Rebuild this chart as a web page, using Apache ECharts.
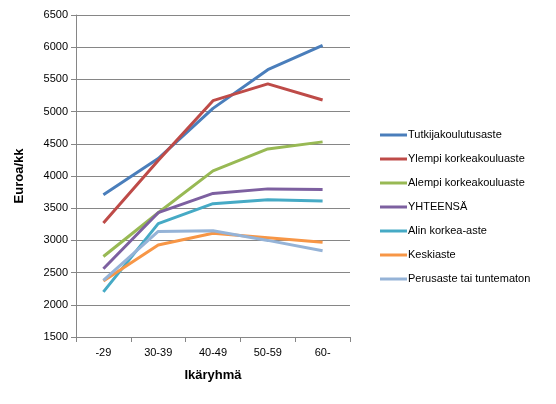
<!DOCTYPE html>
<html>
<head>
<meta charset="utf-8">
<script src="https://cdn.jsdelivr.net/npm/echarts@6/dist/echarts.min.js"></script>
<style>
  html, body { margin: 0; padding: 0; background: #fff; }
  #chart { width: 556px; height: 404px; }
</style>
</head>
<body>
<div id="chart"></div>
<script>
'use strict';
// ikäryhmät
let categories = ['-29', '30-39', '40-49', '50-59', '60-'];
let seriesNames = [
    'Tutkijakoulutusaste',
    'Ylempi korkeakouluaste',
    'Alempi korkeakouluaste',
    'YHTEENSÄ',
    'Alin korkea-aste',
    'Keskiaste',
    'Perusaste tai tuntematon',
];
let tutkija = [3710, 4270, 5050, 5650, 6030];
let ylempi = [3270, 4240, 5170, 5430, 5180];
let alempi = [2750, 3430, 4080, 4420, 4530];
let yhteensa = [2560, 3430, 3730, 3800, 3790];
let alin = [2200, 3260, 3570, 3630, 3610];
let keskiaste = [2370, 2930, 3110, 3040, 2970];
let perusaste = [2380, 3140, 3150, 3000, 2840];
let colors = ['#4a7ebb', '#be4b48', '#98b954', '#7d60a0', '#46aac5', '#f79646', '#95b3d7'];

let seriesData = [tutkija, ylempi, alempi, yhteensa, alin, keskiaste, perusaste];
let font = 'Liberation Sans, Arial, sans-serif';

let myChart = echarts.init(document.getElementById('chart'), null, {renderer: 'canvas'});
let series = [];
for (let i = 0; i < seriesNames.length; i++) {
    series.push({
        name: seriesNames[i],
        type: 'line',
        showSymbol: false,
        symbol: 'none',
        data: seriesData[i],
        lineStyle: {width: 3},
    });
}

let option = {
    animation: false,
    color: colors,
    grid: {left: 76, right: 206, top: 15, bottom: 67},
    legend: {
        orient: 'vertical',
        left: 375,
        top: 123,
        icon: 'rect',
        itemWidth: 27,
        itemHeight: 3,
        itemGap: 10,
        textStyle: {fontFamily: font, fontSize: 11, color: '#000', lineHeight: 14, padding: [0, 0, 0, -4]},
        data: seriesNames,
    },
    xAxis: {
        type: 'category',
        boundaryGap: true,
        data: categories,
        name: 'Ikäryhmä',
        nameLocation: 'middle',
        nameGap: 32,
        nameTextStyle: {fontFamily: font, fontSize: 13, fontWeight: 'bold', color: '#000'},
        axisLine: {lineStyle: {color: '#868686'}},
        axisTick: {show: true, length: 5, lineStyle: {color: '#868686'}},
        axisLabel: {fontFamily: font, fontSize: 11, color: '#000', margin: 10},
    },
    yAxis: {
        type: 'value',
        min: 1500,
        max: 6500,
        interval: 500,
        name: 'Euroa/kk',
        nameLocation: 'middle',
        nameGap: 50,
        nameTextStyle: {fontFamily: font, fontSize: 13, fontWeight: 'bold', color: '#000'},
        axisLine: {show: true, lineStyle: {color: '#868686'}},
        axisTick: {show: true, length: 5, lineStyle: {color: '#868686'}},
        axisLabel: {
            fontFamily: font, fontSize: 11, color: '#000', margin: 8,
            formatter: function(v) { return String(v); },
        },
        splitLine: {lineStyle: {color: '#868686'}},
    },
    series: series,
};
myChart.setOption(option);
</script>
</body>
</html>
